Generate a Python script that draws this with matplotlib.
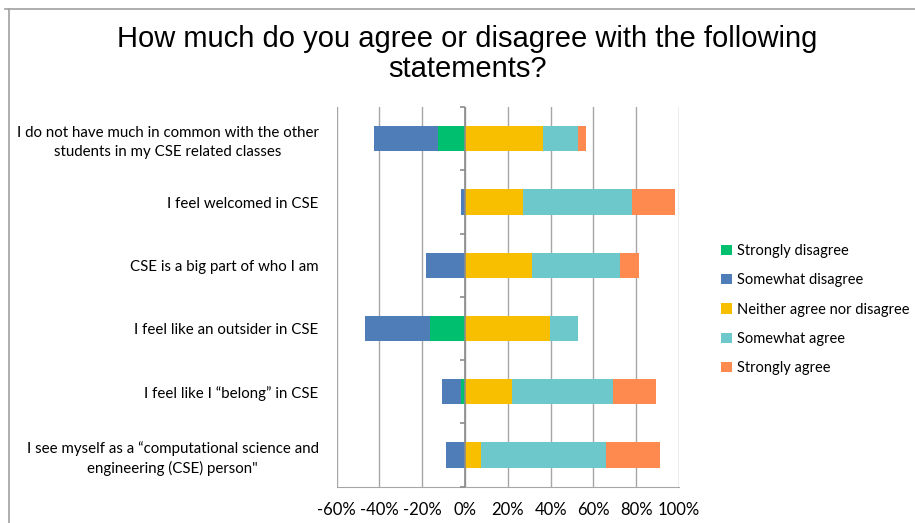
import matplotlib.pyplot as plt
import numpy as np
from matplotlib.lines import Line2D
from matplotlib.patches import Patch

labels = [
    "I do not have much in common with the other\nstudents in my CSE related classes",
    "I feel welcomed in CSE",
    "CSE is a big part of who I am",
    "I feel like an outsider in CSE",
    "I feel like I \u201cbelong\u201d in CSE",
    "I see myself as a \u201ccomputational science and\nengineering (CSE) person\"",
]

# percentages per statement; disagree shares are drawn to the left of zero
strongly_disagree = [12.7, 0.0, 0.0, 16.3, 1.7, 0.0]
somewhat_disagree = [30.1, 1.7, 18.3, 30.3, 9.3, 9.0]
neither = [36.5, 27.3, 31.5, 39.9, 21.9, 7.3]
somewhat_agree = [16.3, 50.8, 40.9, 12.9, 47.4, 58.4]
strongly_agree = [3.6, 20.0, 9.1, 0.0, 19.8, 25.3]

series_names = ["Strongly disagree", "Somewhat disagree", "Neither agree nor disagree",
                "Somewhat agree", "Strongly agree"]
colors = ["#00BF6F", "#4F7DB7", "#F8BE00", "#6DC8CC", "#FF8A50"]

xticks = [-60, -40, -20, 0, 20, 40, 60, 80, 100]

plt.rcParams['font.family'] = ['Lato', 'DejaVu Sans']

fig = plt.figure(figsize=(9.15, 5.23), dpi=100)
ax = fig.add_axes([0.368, 0.0694, 0.374, 0.7256])

y = np.arange(len(labels))
h = 0.4

sd = np.array(strongly_disagree)
wd = np.array(somewhat_disagree)
ne = np.array(neither)
wa = np.array(somewhat_agree)
sa = np.array(strongly_agree)

ax.barh(y, -sd, h, color=colors[0], zorder=2)
ax.barh(y, -wd, h, left=-sd, color=colors[1], zorder=2)
ax.barh(y, ne, h, color=colors[2], zorder=2)
ax.barh(y, wa, h, left=ne, color=colors[3], zorder=2)
ax.barh(y, sa, h, left=ne + wa, color=colors[4], zorder=2)

ax.set_xlim(-60, 100)
ax.set_ylim(len(labels) - 0.5, -0.5)

ax.set_xticks(xticks)
ax.set_xticklabels([f"{t}%" for t in xticks], fontsize=12)
ax.tick_params(axis='x', length=0, pad=11)
ax.grid(axis='x', color='#A6A6A6', lw=1, zorder=0)

ax.set_yticks(y)
ax.set_yticklabels(labels, fontsize=10.8, multialignment='center', linespacing=1.4)
ax.tick_params(axis='y', length=0, pad=13)

for s in ['top', 'right', 'left']:
    ax.spines[s].set_visible(False)
ax.spines['bottom'].set_color('#A6A6A6')

# zero axis with category tick marks
ax.axvline(0, color='#8C8C8C', lw=1.2, zorder=3)
ax.hlines(np.arange(len(labels) + 1) - 0.5, -2.4, 0, color='#8C8C8C', lw=1.2, zorder=3,
          clip_on=False)

fig.text(0.511, 0.897, "How much do you agree or disagree with the following\nstatements?",
         ha='center', va='center', fontsize=21, family='Liberation Sans', linespacing=1.12)

handles = [Patch(facecolor=c) for c in colors]
fig.legend(handles, series_names, loc='center left', bbox_to_anchor=(0.774, 0.408),
           frameon=False, fontsize=10.5, handlelength=0.7, handleheight=0.7,
           handletextpad=0.35, labelspacing=1.05)

# outer chart frame
fig.add_artist(Line2D([0.0055, 1.0], [0.983, 0.983], color='#A0A0A0', lw=1.2))
fig.add_artist(Line2D([0.0098, 0.0098], [0.0, 0.983], color='#A0A0A0', lw=1.2))

fig.savefig("out.png", dpi=100)
